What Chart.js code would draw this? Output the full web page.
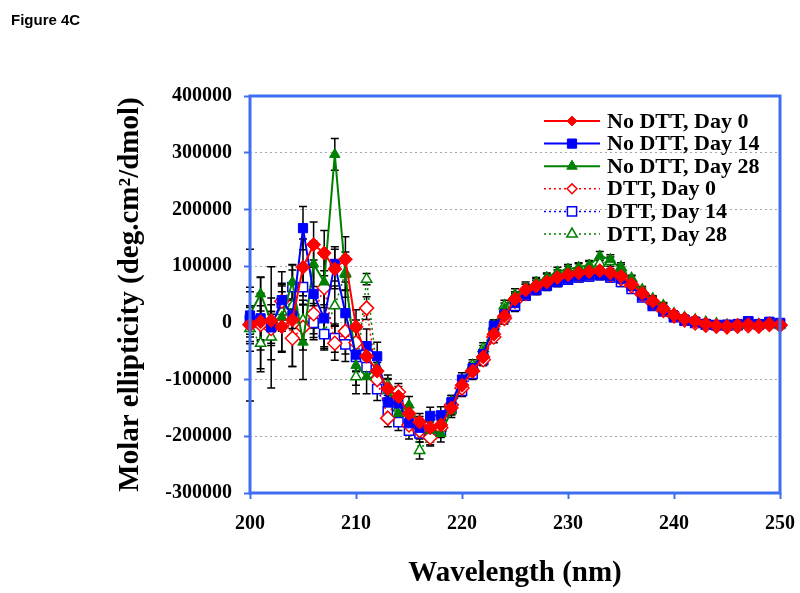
<!DOCTYPE html>
<html>
<head>
<meta charset="utf-8">
<script src="https://cdn.jsdelivr.net/npm/chart.js@4.4.1/dist/chart.umd.min.js"></script>
<style>
  body { margin: 0; background: #fff; }
  #wrap { position: relative; width: 800px; height: 593px; }
  #fig { position: absolute; left: 11px; top: 11px; font: bold 15px "Liberation Sans", Arial, sans-serif; color: #000; }
  canvas { position: absolute; left: 0; top: 0; }
</style>
</head>
<body>
<div id="wrap">
  <canvas id="cd" width="800" height="593"></canvas>
  <div id="fig">Figure 4C</div>
</div>
<script>
// wavelength (nm)
const wavelengths = [
  200, 201, 202, 203, 204, 205, 206, 207, 208, 209,
  210, 211, 212, 213, 214, 215, 216, 217, 218, 219,
  220, 221, 222, 223, 224, 225, 226, 227, 228, 229,
  230, 231, 232, 233, 234, 235, 236, 237, 238, 239,
  240, 241, 242, 243, 244, 245, 246, 247, 248, 249,
  250
];

const noDttDay0 = [
  -4000, 2000, 4000, -7000, 5000, 98000, 138000, 123000, 95000, 112000,
  -7000, -59000, -85000, -116000, -130000, -160000, -175000, -185000, -180000, -150000,
  -110000, -85000, -60000, -20000, 12000, 42000, 58000, 65000, 72000, 80000,
  85000, 88000, 90000, 92000, 88000, 82000, 68000, 52000, 38000, 25000,
  14000, 7000, 3000, -2000, -5000, -6000, -4000, -3000, -5000, -2000,
  -3000
];
const noDttDay14 = [
  13000, 8000, -8000, 40000, 13000, 167000, 51000, 8000, 104000, 17000,
  -56000, -41000, -59000, -140000, -142000, -177000, -185000, -164000, -163000, -140000,
  -100000, -80000, -55000, -5000, 15000, 35000, 50000, 58000, 65000, 72000,
  78000, 82000, 84000, 85000, 83000, 78000, 65000, 48000, 32000, 22000,
  12000, 5000, 2000, -2000, -4000, -3000, -2000, 3000, -2000, 2000,
  0
];
const noDttDay28 = [
  15000, 51000, 2000, 10000, 72000, -34000, 104000, 72000, 297000, 85000,
  -75000, -95000, -78000, -120000, -160000, -145000, -180000, -190000, -195000, -155000,
  -105000, -80000, -50000, -10000, 25000, 50000, 62000, 72000, 80000, 90000,
  95000, 98000, 102000, 118000, 112000, 95000, 75000, 55000, 40000, 28000,
  14000, 8000, 4000, 0, -3000, -5000, -5000, -3000, -4000, -2000,
  -4000
];
const dttDay0 = [
  -3000, -3000, -10000, 38000, -27000, -8000, 16000, 62000, -36000, -15000,
  -35000, 26000, -100000, -168000, -122000, -180000, -190000, -202000, -185000, -145000,
  -115000, -85000, -65000, -25000, 8000, 38000, 52000, 62000, 70000, 78000,
  82000, 85000, 88000, 90000, 85000, 78000, 65000, 50000, 35000, 22000,
  12000, 5000, 0, -4000, -6000, -7000, -6000, -5000, -6000, -3000,
  -4000
];
const dttDay14 = [
  5000, 0, -5000, 35000, 63000, 63000, 0, -20000, -27000, -38000,
  -60000, -78000, -117000, -156000, -175000, -190000, -195000, -195000, -190000, -150000,
  -120000, -90000, -65000, -20000, 10000, 30000, 48000, 58000, 66000, 72000,
  76000, 80000, 82000, 84000, 80000, 72000, 60000, 45000, 30000, 20000,
  10000, 4000, 0, -3000, -4000, -5000, -4000, 2000, -3000, 0,
  -2000
];
const dttDay28 = [
  -10000, -36000, -25000, 20000, 30000, 5000, 4000, -18000, 30000, 88000,
  -95000, 77000, -90000, -110000, -150000, -170000, -225000, -200000, -185000, -140000,
  -110000, -75000, -45000, -5000, 30000, 45000, 60000, 70000, 78000, 85000,
  92000, 96000, 100000, 105000, 108000, 98000, 78000, 58000, 42000, 30000,
  16000, 9000, 5000, 1000, -2000, -4000, -4000, -2000, -3000, -1000,
  -3000
];

// error bar half-lengths
const errNoDttDay0 = [
  134000, 50000, 40000, 45000, 35000, 50000, 40000, 40000, 35000, 40000,
  30000, 25000, 25000, 18000, 18000, 15000, 15000, 15000, 15000, 12000,
  12000, 10000, 10000, 10000, 10000, 10000, 10000, 10000, 8000, 8000,
  8000, 8000, 8000, 8000, 8000, 8000, 8000, 6000, 6000, 6000,
  6000, 5000, 5000, 5000, 5000, 5000, 5000, 5000, 5000, 5000,
  5000
];
const errNoDttDay14 = [
  50000, 40000, 107000, 50000, 90000, 38000, 60000, 50000, 30000, 40000,
  30000, 30000, 25000, 20000, 18000, 15000, 15000, 15000, 15000, 12000,
  12000, 10000, 10000, 10000, 10000, 10000, 10000, 8000, 8000, 8000,
  8000, 8000, 8000, 8000, 8000, 8000, 8000, 6000, 6000, 6000,
  6000, 5000, 5000, 5000, 5000, 5000, 5000, 5000, 5000, 5000,
  5000
];
const errNoDttDay28 = [
  40000, 30000, 30000, 60000, 30000, 66000, 40000, 45000, 28000, 40000,
  35000, 30000, 25000, 20000, 18000, 15000, 15000, 15000, 15000, 12000,
  12000, 10000, 10000, 10000, 10000, 10000, 10000, 8000, 8000, 8000,
  8000, 8000, 8000, 8000, 8000, 8000, 8000, 6000, 6000, 6000,
  6000, 5000, 5000, 5000, 5000, 5000, 5000, 5000, 5000, 5000,
  5000
];
const errDttDay0 = [
  30000, 83000, 30000, 30000, 50000, 40000, 35000, 30000, 30000, 40000,
  40000, 20000, 20000, 15000, 15000, 15000, 15000, 15000, 12000, 12000,
  10000, 10000, 10000, 10000, 10000, 10000, 8000, 8000, 8000, 8000,
  8000, 8000, 8000, 8000, 8000, 8000, 6000, 6000, 6000, 6000,
  5000, 5000, 5000, 5000, 5000, 5000, 5000, 5000, 5000, 5000,
  5000
];
const errDttDay14 = [
  25000, 30000, 25000, 30000, 30000, 30000, 30000, 25000, 25000, 30000,
  25000, 20000, 20000, 15000, 15000, 15000, 15000, 15000, 12000, 12000,
  10000, 10000, 10000, 10000, 10000, 10000, 8000, 8000, 8000, 8000,
  8000, 8000, 8000, 8000, 8000, 8000, 6000, 6000, 6000, 6000,
  5000, 5000, 5000, 5000, 5000, 5000, 5000, 5000, 5000, 5000,
  5000
];
const errDttDay28 = [
  40000, 45000, 40000, 35000, 40000, 35000, 30000, 30000, 35000, 30000,
  30000, 10000, 20000, 18000, 15000, 15000, 15000, 15000, 12000, 12000,
  10000, 10000, 10000, 10000, 10000, 10000, 8000, 8000, 8000, 8000,
  8000, 8000, 8000, 8000, 8000, 8000, 6000, 6000, 6000, 6000,
  5000, 5000, 5000, 5000, 5000, 5000, 5000, 5000, 5000, 5000,
  5000
];

const seriesLabels = ['No DTT, Day 0', 'No DTT, Day 14', 'No DTT, Day 28', 'DTT, Day 0', 'DTT, Day 14', 'DTT, Day 28'];
const yTicks = [400000, 300000, 200000, 100000, 0, -100000, -200000, -300000];
const xTicks = [200, 210, 220, 230, 240, 250];

const RED = '#ff0000', BLUE = '#0000ff', GREEN = '#008000';
const AXIS_BLUE = '#3f6ef0';
const SERIF = '"Liberation Serif", "Times New Roman", serif';

function makeSet(label, vals, errs, color, style, radius, filled) {
  return {
    label: label,
    data: wavelengths.map((w, i) => ({ x: w, y: vals[i] })),
    err: errs,
    borderColor: color,
    backgroundColor: color,
    borderWidth: filled ? 2 : 1.5,
    borderDash: filled ? [] : [2, 3],
    pointStyle: style,
    pointRadius: radius,
    pointBorderWidth: filled ? 1 : 1.5,
    pointBorderColor: color,
    pointBackgroundColor: filled ? color : '#ffffff',
    tension: 0,
    clip: false
  };
}

// black error bars, drawn behind the markers
const errorBars = {
  id: 'errorBars',
  beforeDatasetsDraw(chart) {
    const { ctx } = chart;
    const xs = chart.scales.x, ys = chart.scales.y;
    ctx.save();
    ctx.strokeStyle = '#000';
    ctx.lineWidth = 1.5;
    chart.data.datasets.forEach(ds => {
      ds.data.forEach((p, i) => {
        const e = ds.err[i];
        const px = xs.getPixelForValue(p.x);
        const top = ys.getPixelForValue(p.y + e);
        const bot = ys.getPixelForValue(p.y - e);
        ctx.beginPath();
        ctx.moveTo(px, top); ctx.lineTo(px, bot);
        ctx.moveTo(px - 4, top); ctx.lineTo(px + 4, top);
        ctx.moveTo(px - 4, bot); ctx.lineTo(px + 4, bot);
        ctx.stroke();
      });
    });
    ctx.restore();
  }
};

function drawMarker(ctx, style, x, y, r, fill, stroke) {
  ctx.beginPath();
  if (style === 'rect') {
    const s = r * Math.SQRT1_2;
    ctx.rect(x - s, y - s, 2 * s, 2 * s);
  } else if (style === 'rectRot') {
    const s = r * Math.SQRT1_2;
    ctx.moveTo(x - s, y); ctx.lineTo(x, y + s); ctx.lineTo(x + s, y); ctx.lineTo(x, y - s);
    ctx.closePath();
  } else {
    ctx.moveTo(x, y - r);
    ctx.lineTo(x + r * Math.sin(2 * Math.PI / 3), y - r * Math.cos(2 * Math.PI / 3));
    ctx.lineTo(x + r * Math.sin(4 * Math.PI / 3), y - r * Math.cos(4 * Math.PI / 3));
    ctx.closePath();
  }
  ctx.fillStyle = fill;
  ctx.fill();
  ctx.strokeStyle = stroke;
  ctx.stroke();
}

// blue frame around the plot and the legend inside it
const frameAndLegend = {
  id: 'frameAndLegend',
  afterDraw(chart) {
    const { ctx, chartArea: a } = chart;
    ctx.save();
    ctx.strokeStyle = AXIS_BLUE;
    ctx.lineWidth = 3;
    ctx.strokeRect(a.left, a.top, a.right - a.left, a.bottom - a.top);

    chart.data.datasets.forEach((ds, i) => {
      const y = a.top + 25 + i * 22.6;
      const x0 = a.right - 236, x1 = a.right - 180;
      ctx.strokeStyle = ds.borderColor;
      ctx.lineWidth = ds.borderWidth;
      ctx.setLineDash(ds.borderDash);
      ctx.beginPath();
      ctx.moveTo(x0, y); ctx.lineTo(x1, y);
      ctx.stroke();
      ctx.setLineDash([]);
      ctx.lineWidth = ds.pointBorderWidth;
      drawMarker(ctx, ds.pointStyle, (x0 + x1) / 2, y, ds.pointRadius, ds.pointBackgroundColor, ds.pointBorderColor);
      ctx.fillStyle = '#000';
      ctx.font = 'bold 22px ' + SERIF;
      ctx.textBaseline = 'middle';
      ctx.textAlign = 'left';
      ctx.fillText(ds.label, a.right - 173, y + 1);
    });
    ctx.restore();
  }
};

new Chart(document.getElementById('cd'), {
  type: 'line',
  data: {
    datasets: [
      makeSet(seriesLabels[0], noDttDay0, errNoDttDay0, RED, 'rectRot', 7, true),
      makeSet(seriesLabels[1], noDttDay14, errNoDttDay14, BLUE, 'rect', 6.5, true),
      makeSet(seriesLabels[2], noDttDay28, errNoDttDay28, GREEN, 'triangle', 6, true),
      makeSet(seriesLabels[3], dttDay0, errDttDay0, RED, 'rectRot', 7, false),
      makeSet(seriesLabels[4], dttDay14, errDttDay14, BLUE, 'rect', 6.5, false),
      makeSet(seriesLabels[5], dttDay28, errDttDay28, GREEN, 'triangle', 6, false)
    ]
  },
  options: {
    responsive: false,
    animation: false,
    layout: { padding: { left: 111, top: 96, right: 20, bottom: 0 } },
    plugins: {
      legend: { display: false },
      tooltip: { enabled: false }
    },
    scales: {
      x: {
        type: 'linear',
        min: 200,
        max: 250,
        afterBuildTicks: s => { s.ticks = xTicks.map(v => ({ value: v })); },
        afterFit: s => { s.height = 100; s.paddingLeft = 0; s.paddingRight = 0; },
        ticks: { color: '#000', font: { family: SERIF, size: 20, weight: 'bold' }, padding: 13 },
        grid: { drawOnChartArea: false, tickLength: 6, tickColor: AXIS_BLUE, tickWidth: 2 },
        border: { display: false },
        title: { display: true, text: 'Wavelength (nm)', color: '#000', font: { family: SERIF, size: 29, weight: 'bold' }, padding: 2 }
      },
      y: {
        min: -300000,
        max: 400000,
        afterBuildTicks: s => { s.ticks = yTicks.map(v => ({ value: v })); },
        afterFit: s => { s.width = 139; s.paddingTop = 0; s.paddingBottom = 0; },
        ticks: { color: '#000', font: { family: SERIF, size: 20, weight: 'bold' }, padding: 12, callback: v => String(v) },
        grid: { color: '#a8a8a8', lineWidth: 1, tickLength: 6, tickColor: AXIS_BLUE, tickWidth: 2 },
        border: { display: false, dash: [2, 3] },
        title: { display: true, text: 'Molar ellipticity (deg.cm\u00b2/dmol)', color: '#000', font: { family: SERIF, size: 29, weight: 'bold' }, padding: 2 }
      }
    }
  },
  plugins: [errorBars, frameAndLegend]
});
</script>
</body>
</html>
